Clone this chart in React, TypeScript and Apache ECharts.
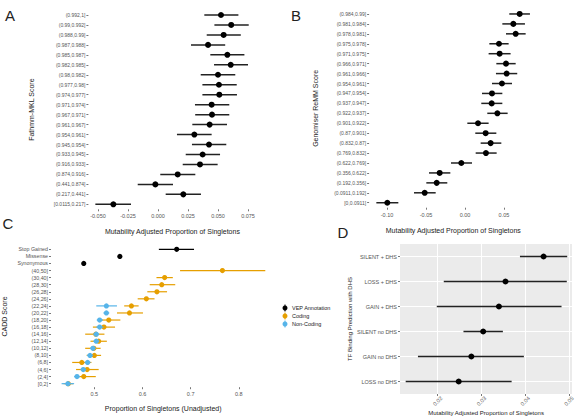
import React, { useEffect, useRef } from 'react';
import * as echarts from 'echarts';

const FONT = '"Liberation Sans", Arial, Helvetica, sans-serif';

// ---------- Panel A : Fathmm-MKL ----------
const aCategories = ['(0.992,1]', '(0.99,0.992]', '(0.988,0.99]', '(0.987,0.988]', '(0.985,0.987]', '(0.982,0.985]', '(0.98,0.982]', '(0.977,0.98]', '(0.974,0.977]', '(0.971,0.974]', '(0.967,0.971]', '(0.961,0.967]', '(0.954,0.961]', '(0.945,0.954]', '(0.933,0.945]', '(0.916,0.933]', '(0.874,0.916]', '(0.441,0.874]', '(0.217,0.441]', '[0.0115,0.217]'];
const aMid = [0.0525, 0.061, 0.0547, 0.0417, 0.0578, 0.0606, 0.05, 0.0508, 0.0511, 0.0447, 0.045, 0.043, 0.0303, 0.0425, 0.0372, 0.035, 0.0164, -0.0022, 0.0211, -0.0372];
const aLow = [0.0386, 0.047, 0.0406, 0.0275, 0.0436, 0.0467, 0.0356, 0.037, 0.037, 0.0308, 0.031, 0.0286, 0.0158, 0.0283, 0.0231, 0.0206, 0.0019, -0.0169, 0.0064, -0.0522];
const aHigh = [0.067, 0.0756, 0.069, 0.056, 0.072, 0.075, 0.0644, 0.0656, 0.0658, 0.0594, 0.0594, 0.0575, 0.0447, 0.0569, 0.0517, 0.0497, 0.0311, 0.0125, 0.0358, -0.0225];
const aTicks = [-0.05, -0.025, 0, 0.025, 0.05, 0.075];

// ---------- Panel B : Genomiser ReMM ----------
const bCategories = ['(0.984,0.99]', '(0.981,0.984]', '(0.978,0.981]', '(0.975,0.978]', '(0.971,0.975]', '(0.966,0.971]', '(0.961,0.966]', '(0.954,0.961]', '(0.947,0.954]', '(0.937,0.947]', '(0.922,0.937]', '(0.901,0.922]', '(0.87,0.901]', '(0.832,0.87]', '(0.769,0.832]', '(0.622,0.769]', '(0.356,0.622]', '(0.192,0.356]', '(0.0911,0.192]', '[0,0.0911]'];
const bMid = [0.0701, 0.062, 0.065, 0.0436, 0.0444, 0.0526, 0.0534, 0.0474, 0.0346, 0.0342, 0.0415, 0.0167, 0.0265, 0.0329, 0.0269, -0.0047, -0.0325, -0.0363, -0.0517, -0.0996];
const bLow = [0.0568, 0.0479, 0.0526, 0.0312, 0.0303, 0.0402, 0.0397, 0.0346, 0.0218, 0.0209, 0.0286, 0.003, 0.0132, 0.0201, 0.0137, -0.018, -0.0462, -0.0496, -0.0654, -0.1137];
const bHigh = [0.0833, 0.0769, 0.0778, 0.056, 0.0585, 0.065, 0.067, 0.0603, 0.0479, 0.0479, 0.0547, 0.0303, 0.0402, 0.0466, 0.0406, 0.009, -0.0188, -0.0227, -0.0376, -0.0855];
const bTicks = [-0.1, -0.05, 0, 0.05];

// ---------- Panel C : proportion of singletons ----------
const cCategories = ['Stop Gained', 'Missense', 'Synonymous', '(40,50]', '(30,40]', '(28,30]', '(26,28]', '(24,26]', '(22,24]', '(20,22]', '(18,20]', '(16,18]', '(14,16]', '(12,14]', '(10,12]', '(8,10]', '(6,8]', '(4,6]', '(2,4]', '[0,2]'];
const cVepCats = ['Stop Gained', 'Missense', 'Synonymous'];
const cVepMid = [0.671, 0.553, 0.478];
const cVepLow = [0.634, 0.551, 0.475];
const cVepHigh = [0.707, 0.555, 0.481];
const cCodingCats = ['(40,50]', '(30,40]', '(28,30]', '(26,28]', '(24,26]', '(22,24]', '(20,22]', '(18,20]', '(16,18]', '(14,16]', '(12,14]', '(10,12]', '(8,10]', '(6,8]', '(4,6]', '(2,4]', '[0,2]'];
const cCodingMid = [0.766, 0.646, 0.64, 0.63, 0.608, 0.577, 0.573, 0.53, 0.52, 0.503, 0.509, 0.499, 0.5, 0.474, 0.485, 0.478, 0.446];
const cCodingLow = [0.678, 0.629, 0.615, 0.61, 0.59, 0.562, 0.547, 0.512, 0.497, 0.481, 0.492, 0.481, 0.484, 0.454, 0.462, 0.46, 0.436];
const cCodingHigh = [0.855, 0.663, 0.668, 0.651, 0.625, 0.592, 0.601, 0.554, 0.543, 0.521, 0.526, 0.513, 0.514, 0.494, 0.509, 0.503, 0.456];
const cNonCats = ['(22,24]', '(20,22]', '(18,20]', '(16,18]', '(14,16]', '(12,14]', '(10,12]', '(8,10]', '(6,8]', '(4,6]', '(2,4]', '[0,2]'];
const cNonMid = [0.525, 0.525, 0.511, 0.511, 0.504, 0.504, 0.497, 0.491, 0.486, 0.477, 0.464, 0.445];
const cNonLow = [0.504, 0.519, 0.505, 0.504, 0.498, 0.498, 0.491, 0.485, 0.48, 0.471, 0.458, 0.432];
const cNonHigh = [0.547, 0.531, 0.518, 0.519, 0.51, 0.51, 0.503, 0.497, 0.492, 0.483, 0.47, 0.458];
const cTicks = [0.5, 0.6, 0.7, 0.8];
const cLegend = ['VEP Annotation', 'Coding', 'Non-Coding'];

// ---------- Panel D : TF binding ----------
const dCategories = ['SILENT + DHS', 'LOSS + DHS', 'GAIN + DHS', 'SILENT no DHS', 'GAIN no DHS', 'LOSS no DHS'];
const dMid = [0.0442, 0.0355, 0.034, 0.0304, 0.0277, 0.0248];
const dLow = [0.0388, 0.0214, 0.0198, 0.0259, 0.0155, 0.0127];
const dHigh = [0.0496, 0.0495, 0.0483, 0.0349, 0.0397, 0.0369];
const dTicks = [0.02, 0.03, 0.04, 0.05];
const dMinor = [0.015, 0.025, 0.035, 0.045];

const BLACK = '#000000';
const ORANGE = '#E69F00';
const BLUE = '#56B4E9';

function errorBars(name: string, gi: number, axisCats: string[], cats: string[], low: number[], mid: number[], high: number[], color: string, lineColor: string, r: number, lw: number, z: number) {
  return {
    type: 'custom',
    name,
    xAxisIndex: gi,
    yAxisIndex: gi,
    z,
    encode: { x: [0, 1, 2], y: 3 },
    data: cats.map((c, i) => [low[i], high[i], mid[i], axisCats.indexOf(c)]),
    renderItem: (params: any, api: any) => {
      const y = api.value(3);
      const p0 = api.coord([api.value(0), y]);
      const p1 = api.coord([api.value(1), y]);
      const pm = api.coord([api.value(2), y]);
      return {
        type: 'group',
        children: [
          { type: 'line', shape: { x1: p0[0], y1: p0[1], x2: p1[0], y2: p1[1] }, style: { stroke: lineColor, lineWidth: lw } },
          { type: 'circle', shape: { cx: pm[0], cy: pm[1], r }, style: { fill: color } },
        ],
      };
    },
  };
}

function catAxis(gi: number, data: string[], name: string, nameGap: number, fontSize: number, nameSize: number) {
  return {
    type: 'category',
    gridIndex: gi,
    data,
    inverse: true,
    axisLine: { show: false, onZero: false },
    axisTick: { show: true, length: 2, alignWithLabel: true, lineStyle: { color: '#555', width: 0.8 } },
    axisLabel: { interval: 0, fontSize, color: '#555', margin: 3, fontFamily: FONT },
    splitLine: { show: false },
    name,
    nameLocation: 'middle',
    nameGap,
    nameTextStyle: { fontSize: nameSize, color: '#222', fontFamily: FONT },
  };
}

function valAxis(gi: number, min: number, max: number, ticks: number[], digits: number, name: string, nameGap: number, nameSize: number, extraLabel: any = {}) {
  return {
    type: 'value',
    gridIndex: gi,
    min,
    max,
    axisLine: { show: false, onZero: false },
    axisTick: { show: true, length: 2, customValues: ticks, lineStyle: { color: '#555', width: 0.8 } },
    axisLabel: Object.assign({ customValues: ticks, formatter: (v: number) => v.toFixed(digits), fontSize: 5.5, color: '#555', margin: 4, fontFamily: FONT }, extraLabel),
    splitLine: { show: false },
    name,
    nameLocation: 'middle',
    nameGap,
    nameTextStyle: { fontSize: nameSize, color: '#222', fontFamily: FONT },
  };
}

const TITLE = 'Mutability Adjusted Proportion of Singletons';

function legendItem(y: number, color: string, label: string) {
  return [
    { type: 'line', shape: { x1: 285, y1: y - 3.5, x2: 285, y2: y + 3.5 }, style: { stroke: color, lineWidth: 1 } },
    { type: 'circle', shape: { cx: 285, cy: y, r: 2.5 }, style: { fill: color } },
    { type: 'text', x: 292, y, style: { text: label, fontSize: 5.5, fill: '#222', fontFamily: FONT, verticalAlign: 'middle', align: 'left' } },
  ];
}

export default function App() {
  const ref = useRef<HTMLDivElement>(null);
  useEffect(() => {
    if (!ref.current) return;
    const chart = echarts.init(ref.current, undefined, { renderer: 'svg' });
    const option: any = {
      animation: false,
      backgroundColor: '#FFFFFF',
      textStyle: { fontFamily: FONT },
      grid: [
        { left: 88.4, right: 320.6, top: 10, bottom: 207.7 },
        { left: 369.1, right: 39.5, top: 9, bottom: 209.3 },
        { left: 48.5, right: 301.6, top: 245.8, bottom: 29.8 },
        { left: 400, right: 4, top: 244, bottom: 23, show: true, backgroundColor: '#EBEBEB', borderWidth: 0 },
      ],
      xAxis: [
        valAxis(0, -0.058, 0.082, aTicks, 3, TITLE, 19, 7),
        valAxis(1, -0.123, 0.093, bTicks, 2, TITLE, 19, 7),
        valAxis(2, 0.41, 0.876, cTicks, 1, 'Proportion of Singletons (Unadjusted)', 18, 7),
        valAxis(3, 0.0114, 0.0507, dTicks, 2, TITLE, 12.5, 6, { rotate: 45, align: 'center', verticalAlign: 'middle', margin: 7 }),
      ],
      yAxis: [
        catAxis(0, aCategories, 'Fathmm-MKL Score', 53, 5, 7),
        catAxis(1, bCategories, 'Genomiser ReMM Score', 50.6, 5, 7),
        catAxis(2, cCategories, 'CADD Score', 43, 5.3, 7),
        catAxis(3, dCategories, 'TF Binding Prediction with DHS', 47, 5.5, 6),
      ],
      series: [
        errorBars('Fathmm-MKL', 0, aCategories, aCategories, aLow, aMid, aHigh, BLACK, '#222222', 3, 1.5, 3),
        errorBars('Genomiser ReMM', 1, bCategories, bCategories, bLow, bMid, bHigh, BLACK, '#222222', 3, 1.5, 3),
        errorBars(cLegend[0], 2, cCategories, cVepCats, cVepLow, cVepMid, cVepHigh, BLACK, BLACK, 2.6, 1.2, 3),
        errorBars(cLegend[1], 2, cCategories, cCodingCats, cCodingLow, cCodingMid, cCodingHigh, ORANGE, ORANGE, 2.6, 1.2, 4),
        errorBars(cLegend[2], 2, cCategories, cNonCats, cNonLow, cNonMid, cNonHigh, BLUE, BLUE, 2.6, 1.2, 5),
        {
          type: 'line',
          xAxisIndex: 3,
          yAxisIndex: 3,
          data: [],
          silent: true,
          z: 1,
          markLine: {
            silent: true,
            z: 1,
            animation: false,
            symbol: ['none', 'none'],
            label: { show: false },
            lineStyle: { color: '#FFFFFF', type: 'solid' },
            data: [
              ...dTicks.map((v) => ({ xAxis: v, lineStyle: { color: '#FFFFFF', width: 1, type: 'solid' } })),
              ...dMinor.map((v) => ({ xAxis: v, lineStyle: { color: '#FFFFFF', width: 0.5, type: 'solid' } })),
              ...dCategories.map((c, i) => ({ yAxis: i, lineStyle: { color: '#FFFFFF', width: 1, type: 'solid' } })),
            ],
          },
        },
        errorBars('TF Binding', 3, dCategories, dCategories, dLow, dMid, dHigh, BLACK, '#222222', 3, 1.4, 3),
      ],
      graphic: [
        { type: 'text', x: 10, y: 15, style: { text: 'A', fontSize: 15, fill: '#222', fontFamily: FONT, align: 'center', verticalAlign: 'middle' } },
        { type: 'text', x: 296, y: 15, style: { text: 'B', fontSize: 15, fill: '#222', fontFamily: FONT, align: 'center', verticalAlign: 'middle' } },
        { type: 'text', x: 8, y: 223, style: { text: 'C', fontSize: 15, fill: '#222', fontFamily: FONT, align: 'center', verticalAlign: 'middle' } },
        { type: 'text', x: 343, y: 232, style: { text: 'D', fontSize: 15, fill: '#222', fontFamily: FONT, align: 'center', verticalAlign: 'middle' } },
        ...legendItem(308, BLACK, cLegend[0]),
        ...legendItem(316, ORANGE, cLegend[1]),
        ...legendItem(324, BLUE, cLegend[2]),
      ],
    };
    chart.setOption(option);
    return () => chart.dispose();
  }, []);
  return <div ref={ref} style={{ position: 'absolute', left: 0, top: 0, width: 577, height: 417 }} />;
}
